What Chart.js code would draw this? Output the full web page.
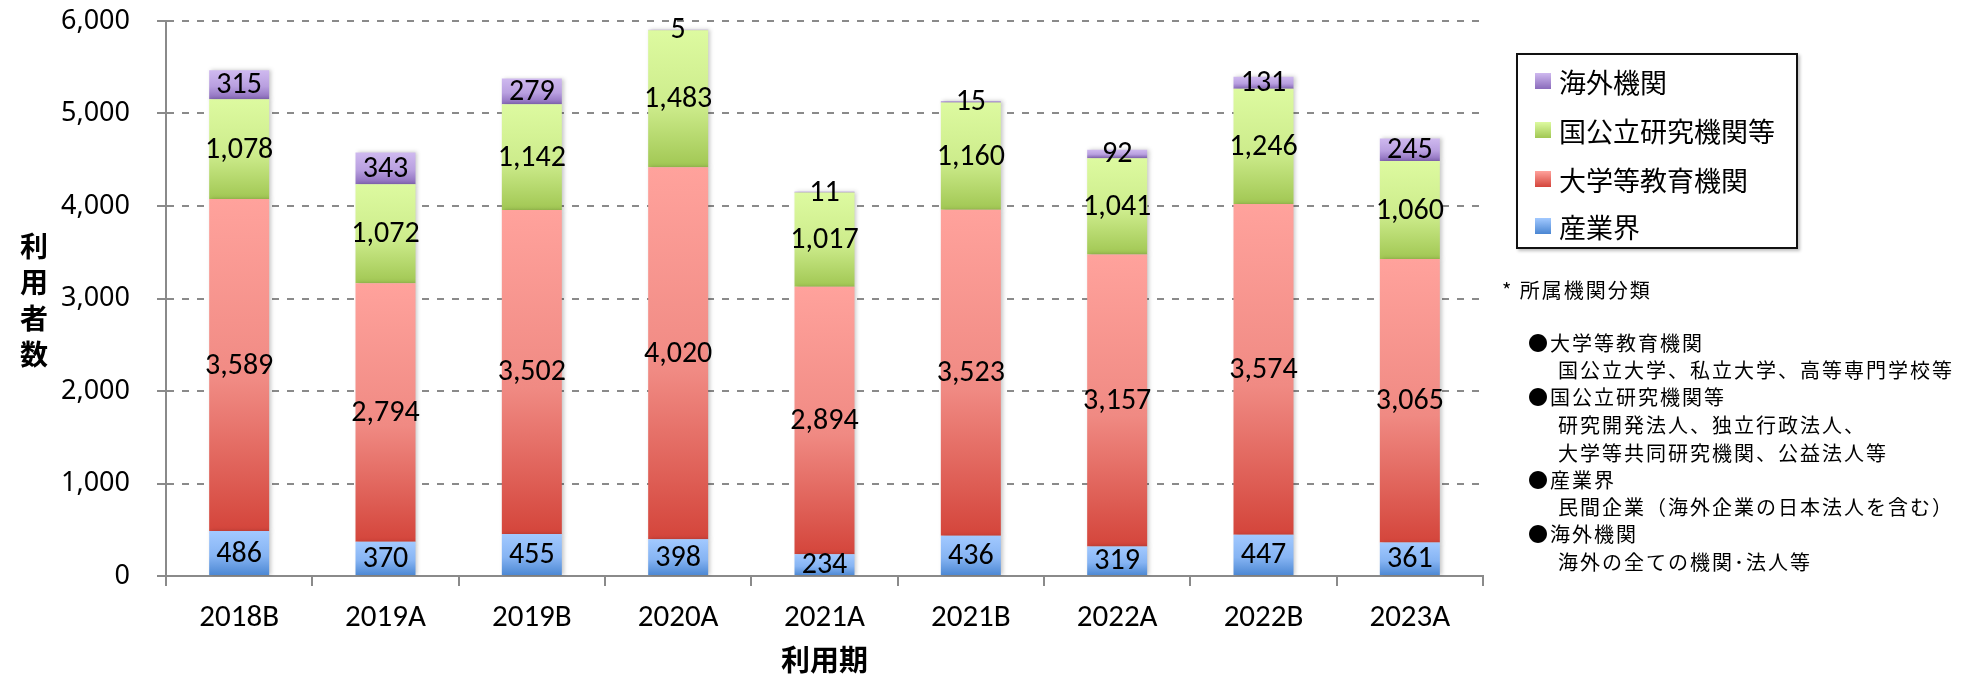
<!DOCTYPE html>
<html lang="ja">
<head>
<meta charset="utf-8">
<title>利用者数</title>
<script src="https://cdn.jsdelivr.net/npm/chart.js@4/dist/chart.umd.min.js"></script>
<style>
  html, body { margin: 0; padding: 0; background: #fff; }
  #wrap { position: relative; width: 1972px; height: 678px; overflow: hidden; }
  #chartBox { position: absolute; left: 0; top: 0; width: 1972px; height: 678px; }
  .ytitle {
    position: absolute; left: 14px; top: 232px;
    writing-mode: vertical-rl; text-orientation: upright;
    font: bold 28px "Noto Sans CJK JP", sans-serif; letter-spacing: 8px; color: #000;
  }
  .legend {
    position: absolute; left: 1516px; top: 53px; width: 278px; height: 192px;
    border: 2px solid #111; box-shadow: 2px 2px 3px rgba(0,0,0,0.25); background: #fff;
    font: 27px "Noto Sans CJK JP", sans-serif; color: #000;
  }
  .legend .item { position: absolute; left: 17px; height: 36px; display: flex; align-items: center; }
  .legend .sw { width: 16px; height: 16px; margin-right: 8px; }
  .notes {
    position: absolute; left: 1502px; top: 0; font: 20px "Noto Sans CJK JP", sans-serif;
    letter-spacing: 2px; color: #000; white-space: nowrap;
  }
  .notes div { position: absolute; line-height: 28px; }
</style>
</head>
<body>
<div id="wrap">
  <div id="chartBox"><canvas id="chart"></canvas></div>
  <div class="ytitle">利用者数</div>
  <div class="legend" id="legend"></div>
  <div class="notes">
    <div style="left:0;top:276px">*&nbsp;所属機関分類</div>
    <div style="left:26px;top:329px">●大学等教育機関</div>
    <div style="left:56px;top:356px">国公立大学、私立大学、高等専門学校等</div>
    <div style="left:26px;top:383px">●国公立研究機関等</div>
    <div style="left:56px;top:411px">研究開発法人、独立行政法人、</div>
    <div style="left:56px;top:439px">大学等共同研究機関、公益法人等</div>
    <div style="left:26px;top:466px">●産業界</div>
    <div style="left:56px;top:493px">民間企業（海外企業の日本法人を含む）</div>
    <div style="left:26px;top:520px">●海外機関</div>
    <div style="left:56px;top:548px">海外の全ての機関･法人等</div>
  </div>
</div>

<script>
// 利用期
const periods = ['2018B', '2019A', '2019B', '2020A', '2021A', '2021B', '2022A', '2022B', '2023A'];

// 所属機関別 利用者数
const industry = [486, 370, 455, 398, 234, 436, 319, 447, 361];          // 産業界
const universities = [3589, 2794, 3502, 4020, 2894, 3523, 3157, 3574, 3065]; // 大学等教育機関
const institutes = [1078, 1072, 1142, 1483, 1017, 1160, 1041, 1246, 1060];   // 国公立研究機関等
const overseas = [315, 343, 279, 5, 11, 15, 92, 131, 245];                // 海外機関

const yTicks = [0, 1000, 2000, 3000, 4000, 5000, 6000];

const seriesNames = ['産業界', '大学等教育機関', '国公立研究機関等', '海外機関'];
const seriesList = [industry, universities, institutes, overseas];
const shades = [
  ['#a2c9ff', '#86b4f3', '#4a86d2'],
  ['#ffa29c', '#f08a83', '#d4453b'],
  ['#ddfaa0', '#cdec8c', '#a1c753'],
  ['#cfb9ef', '#b9a0e0', '#8a6bbb']
];

const GRID = '#8a8a8a';
const NARROW = 'Carlito, "Liberation Sans Narrow", "DejaVu Sans Condensed", "Liberation Sans", sans-serif';

// gradient per stacked segment, light at top and darker at bottom
function segmentFill(d) {
  return (ctx) => {
    const chart = ctx.chart;
    if (!chart.chartArea || ctx.type !== 'data') return shades[d][1];
    const i = ctx.dataIndex;
    let start = 0;
    for (let k = 0; k < d; k++) start += seriesList[k][i];
    const end = start + seriesList[d][i];
    const y = chart.scales.y;
    const g = chart.ctx.createLinearGradient(0, y.getPixelForValue(end), 0, y.getPixelForValue(start));
    g.addColorStop(0, shades[d][0]);
    g.addColorStop(0.55, shades[d][1]);
    g.addColorStop(1, shades[d][2]);
    return g;
  };
}

// soft shadow on the right of the bars
const barShadow = {
  id: 'barShadow',
  beforeDatasetDraw(chart) {
    const c = chart.ctx;
    c.save();
    c.shadowColor = 'rgba(0,0,0,0.22)';
    c.shadowBlur = 4;
    c.shadowOffsetX = 2;
  },
  afterDatasetDraw(chart) {
    chart.ctx.restore();
  }
};

// values written in the middle of each segment
const segmentLabels = {
  id: 'segmentLabels',
  afterDatasetsDraw(chart) {
    const c = chart.ctx;
    c.save();
    c.font = '30px ' + NARROW;
    c.fillStyle = '#000';
    c.textAlign = 'center';
    c.textBaseline = 'middle';
    chart.data.datasets.forEach((ds, d) => {
      chart.getDatasetMeta(d).data.forEach((bar, i) => {
        const { x, y, base } = bar.getProps(['x', 'y', 'base'], true);
        c.fillText(ds.data[i].toLocaleString('en-US'), x, (y + base) / 2 + 1);
      });
    });
    c.restore();
  }
};

new Chart(document.getElementById('chart'), {
  type: 'bar',
  data: {
    labels: periods,
    datasets: seriesList.map((vals, d) => ({
      label: seriesNames[d],
      data: vals,
      backgroundColor: segmentFill(d),
      borderWidth: 0,
      barPercentage: 0.41,
      categoryPercentage: 1
    }))
  },
  options: {
    responsive: true,
    maintainAspectRatio: false,
    animation: false,
    layout: { padding: { left: 0, right: 489, top: 21, bottom: 0 } },
    plugins: {
      legend: { display: false },
      tooltip: { enabled: false }
    },
    scales: {
      x: {
        stacked: true,
        afterFit: (scale) => { scale.height = 102; },
        grid: { display: true, drawOnChartArea: false, color: GRID, lineWidth: 2, tickLength: 10 },
        border: { display: true, color: GRID, width: 2 },
        ticks: { color: '#000', padding: 14, font: { family: NARROW, size: 31 } },
        title: {
          display: true, text: '利用期', color: '#000',
          padding: { top: 0, bottom: 1 },
          font: { family: '"Noto Sans CJK JP", sans-serif', size: 29, weight: 'bold' }
        }
      },
      y: {
        stacked: true,
        min: 0,
        max: 6000,
        afterFit: (scale) => {
          scale.width = 166;
          // keep the tick padding from pushing the plot down
          scale.paddingTop = 16;
          scale.paddingBottom = 16;
        },
        afterBuildTicks: (scale) => { scale.ticks = yTicks.map(v => ({ value: v })); },
        grid: { color: GRID, lineWidth: 2, tickLength: 9, tickBorderDash: [] },
        border: { display: true, color: GRID, width: 2, dash: [7, 8] },
        ticks: {
          color: '#000', padding: 27,
          font: { family: '"Noto Sans", "Open Sans", sans-serif', size: 27 },
          callback: (v) => v.toLocaleString('en-US')
        }
      }
    }
  },
  plugins: [barShadow, segmentLabels]
});

// legend box, top series first
const legend = document.getElementById('legend');
const rowsTop = [8, 57, 106, 153];
[3, 2, 1, 0].forEach((d, r) => {
  const item = document.createElement('div');
  item.className = 'item';
  item.style.top = rowsTop[r] + 'px';
  const sw = document.createElement('span');
  sw.className = 'sw';
  sw.style.background = `linear-gradient(${shades[d][0]}, ${shades[d][2]})`;
  item.appendChild(sw);
  item.appendChild(document.createTextNode(seriesNames[d]));
  legend.appendChild(item);
});
</script>
</body>
</html>
